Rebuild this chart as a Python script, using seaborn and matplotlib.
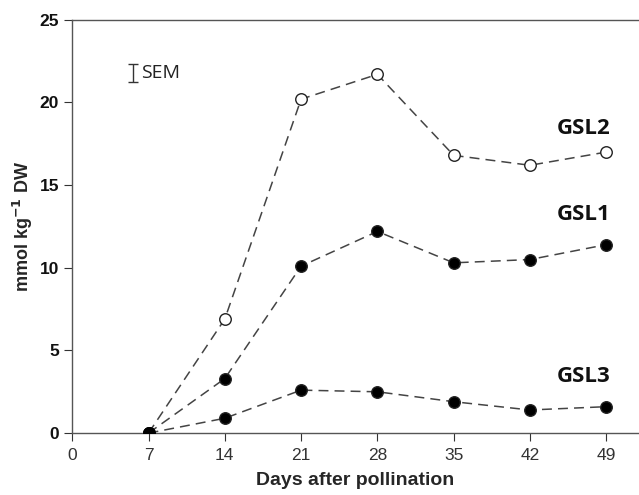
import pandas as pd
import matplotlib
matplotlib.use("Agg")
import matplotlib.pyplot as plt
import seaborn as sns

days = [7, 14, 21, 28, 35, 42, 49]
gsl2 = [0, 6.9, 20.2, 21.7, 16.8, 16.2, 17.0]
gsl1 = [0, 3.3, 10.1, 12.2, 10.3, 10.5, 11.4]
gsl3 = [0, 0.9, 2.6, 2.5, 1.9, 1.4, 1.6]
x_ticks = [0, 7, 14, 21, 28, 35, 42, 49]
y_ticks = [0, 5, 10, 15, 20, 25]

sem_x, sem_y, sem_err = 5.6, 21.8, 0.55

sns.set_style("ticks")
plt.rcParams["font.family"] = ["Liberation Sans", "DejaVu Sans"]

fig = plt.figure(figsize=(6.39, 4.95), dpi=100)
ax = fig.add_axes([0.113, 0.125, 0.887, 0.835])

line_col = "#444444"
series = [("GSL2", gsl2, "white"), ("GSL1", gsl1, "black"), ("GSL3", gsl3, "black")]
for name, vals, face in series:
    df = pd.DataFrame({"day": days, "val": vals})
    sns.lineplot(data=df, x="day", y="val", ax=ax, color=line_col, linestyle=(0, (6.5, 4)),
                 linewidth=1.1, marker="o", markersize=8.3, markerfacecolor=face,
                 markeredgecolor="#222222", markeredgewidth=1.0)
# start point drawn filled
ax.plot(days[0], gsl1[0], "o", color="black", markersize=8.3, zorder=5)

label_pos = {"GSL2": 18.4, "GSL1": 13.2, "GSL3": 3.4}
for name, yv in label_pos.items():
    ax.text(49.4, yv, name, ha="right", va="center", fontsize=16, fontweight="bold",
            family=["Open Sans", "DejaVu Sans"], color="#111111")

ax.errorbar([sem_x], [sem_y], yerr=[sem_err], fmt="none", ecolor="#333333",
            elinewidth=1.0, capsize=3.5, capthick=1.0)
ax.text(sem_x + 0.7, sem_y, "SEM", ha="left", va="center", fontsize=14,
        family=["Open Sans", "DejaVu Sans"], color="#222222")

ax.set_xlim(0, 52)
ax.set_ylim(0, 25)
ax.set_xticks(x_ticks)
ax.set_yticks(y_ticks)
ax.tick_params(axis="x", labelsize=12.5, length=6, pad=5, colors="#333333", labelcolor="#333333")
ax.tick_params(axis="y", labelsize=12.5, length=6, colors="#333333", labelcolor="#111111")
for lab in ax.get_yticklabels():
    lab.set_fontweight("bold")
ax.set_xlabel("Days after pollination", fontsize=14, fontweight="bold", labelpad=6)
ax.set_ylabel("mmol kg$^{\\mathbf{-1}}$ DW", fontsize=13, fontweight="bold", labelpad=3)

for side in ["left", "bottom", "top"]:
    ax.spines[side].set_color("#555555")
    ax.spines[side].set_linewidth(1.0)
ax.spines["right"].set_visible(False)

fig.savefig("out.png", dpi=100)
